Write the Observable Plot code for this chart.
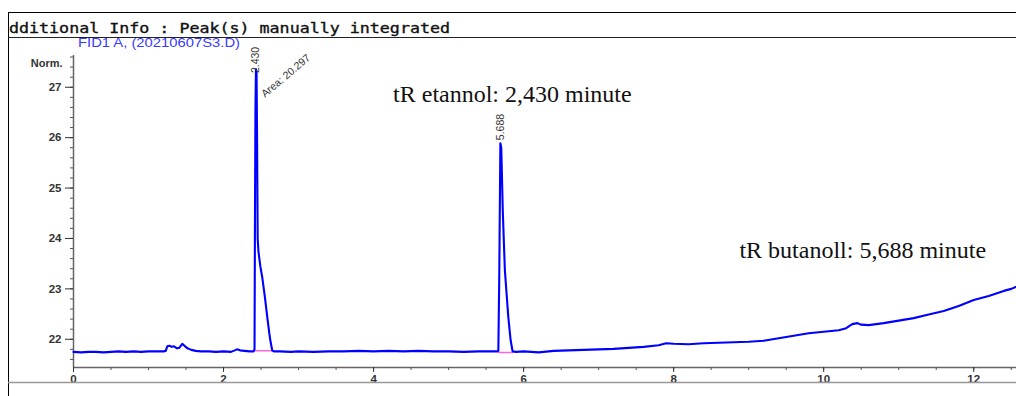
<!DOCTYPE html>
<html>
<head>
<meta charset="utf-8">
<script src="https://cdn.jsdelivr.net/npm/d3@7"></script>
<script src="https://cdn.jsdelivr.net/npm/@observablehq/plot@0.6"></script>
<style>
  html, body { margin: 0; padding: 0; background: #fff; }
  #chart { position: relative; width: 1016px; height: 396px; overflow: hidden; }
</style>
</head>
<body>
<div id="chart"></div>
<script>
// ---- data ----
const headerText = "dditional Info : Peak(s) manually integrated";
const signalName = "FID1 A, (20210607S3.D)";
const yUnit = "Norm.";

const times = [
  0, 0.1, 0.2, 0.3, 0.4, 0.5, 0.6, 0.7, 0.8, 0.9, 1.0, 1.1, 1.2, 1.23, 1.25, 1.28, 1.31, 1.34, 1.38, 1.41,
  1.45, 1.48, 1.52, 1.57, 1.63, 1.7, 1.8, 1.9, 2.0, 2.1, 2.15, 2.18, 2.22, 2.28, 2.35, 2.40,
  2.413, 2.418, 2.425, 2.432, 2.440, 2.447, 2.455, 2.465, 2.49, 2.516, 2.55, 2.583, 2.61, 2.627, 2.649, 2.67,
  2.75, 2.9, 3.0, 3.2, 3.4, 3.6, 3.8, 4.0, 4.2, 4.4, 4.6, 4.8, 5.0, 5.2, 5.4, 5.6, 5.65,
  5.663, 5.675, 5.69, 5.702, 5.722, 5.75, 5.796, 5.827, 5.853,
  5.9, 6.0, 6.2, 6.4, 6.6, 6.8, 7.0, 7.2, 7.4, 7.6, 7.8, 7.9, 8.0, 8.2, 8.4, 8.6, 8.8, 9.0, 9.2, 9.4,
  9.6, 9.8, 10.0, 10.2, 10.3, 10.38, 10.45, 10.5, 10.6, 10.8, 11.0, 11.2, 11.4, 11.6, 11.8, 12.0, 12.2, 12.4, 12.5, 12.6
];
const values = [
  21.75, 21.74, 21.75, 21.75, 21.74, 21.75, 21.76, 21.75, 21.76, 21.75, 21.76, 21.76, 21.76, 21.77, 21.86, 21.87, 21.85, 21.86, 21.82, 21.83,
  21.91, 21.87, 21.82, 21.79, 21.77, 21.76, 21.76, 21.75, 21.76, 21.75, 21.78, 21.80, 21.78, 21.77, 21.76, 21.76,
  21.80, 24.0, 26.5, 27.36, 27.3, 26.0, 24.0, 23.75, 23.45, 23.23, 22.85, 22.44, 22.12, 21.95, 21.78, 21.76,
  21.76, 21.75, 21.76, 21.75, 21.76, 21.76, 21.77, 21.76, 21.77, 21.76, 21.77, 21.76, 21.76, 21.75, 21.76, 21.76, 21.76,
  21.77, 23.2, 25.89, 25.8, 24.56, 23.37, 22.44, 21.98, 21.76,
  21.75, 21.76, 21.74, 21.77, 21.78, 21.79, 21.80, 21.81, 21.83, 21.85, 21.88, 21.92, 21.91, 21.90, 21.92, 21.93, 21.94, 21.95, 21.97, 22.02,
  22.07, 22.12, 22.15, 22.18, 22.22, 22.30, 22.32, 22.29, 22.28, 22.32, 22.37, 22.42, 22.49, 22.56, 22.66, 22.78, 22.86, 22.96, 23.0, 23.06
];

// integration baselines (pink)
const baseStart = [2.413, 5.663];
const baseEnd   = [2.649, 5.853];
const baseStartV = [21.77, 21.74];
const baseEndV   = [21.77, 21.74];

// peak annotations
const peakTimes  = [2.430, 5.688];
const peakHeights = [27.36, 25.89];
const peakLabels = ["2.430", "5.688"];
const areaLabel = "Area: 20.297";

const notes = ["tR etannol: 2,430 minute", "tR butanoll: 5,688 minute"];
const noteX = [5.85, 10.52];
const noteY = [26.86, 23.76];

const xTicks = [0, 2, 4, 6, 8, 10, 12];
const yTicks = [22, 23, 24, 25, 26, 27];
const xDomain = [0, 12.57];
const yDomain = [21.44, 27.63];

// ---- build tables ----
const signal = times.map((t, i) => ({t, v: values[i]}));
const baselines = baseStart.flatMap((s, i) => [
  {t: s, v: baseStartV[i], k: i},
  {t: baseEnd[i], v: baseEndV[i], k: i}
]);
const peaks = peakTimes.map((t, i) => ({t, v: peakHeights[i], label: peakLabels[i]}));
const noteData = notes.map((n, i) => ({x: noteX[i], y: noteY[i], n}));
const xMinor = d3.range(0, 12.6, 0.5);
const yMinor = d3.range(21.6, 27.61, 0.2).map(d => +d.toFixed(1));

const plot = Plot.plot({
  width: 1016,
  height: 396,
  marginLeft: 73,
  marginRight: 0,
  marginTop: 55,
  marginBottom: 29,
  x: {domain: xDomain},
  y: {domain: yDomain},
  style: {fontFamily: "'Liberation Sans', Arial, sans-serif", fontSize: "11px", background: "transparent", overflow: "visible"},
  marks: [
    Plot.ruleX([0], {stroke: "#666", strokeWidth: 1.5}),
    Plot.ruleY([yDomain[0]], {stroke: "#666", strokeWidth: 1.5}),
    Plot.axisY(yMinor, {anchor: "left", tickSize: 3, tickFormat: () => "", color: "#555", label: null}),
    Plot.axisY(yTicks, {anchor: "left", tickSize: 8, tickPadding: 4, tickFormat: d3.format("d"), color: "#333", fontWeight: "bold", fontSize: 11.5, label: null}),
    Plot.axisX(xMinor, {anchor: "bottom", tickSize: 3, tickFormat: () => "", color: "#555", label: null}),
    Plot.axisX(xTicks, {anchor: "bottom", tickSize: 5, tickPadding: 2, tickFormat: d3.format("d"), color: "#333", fontWeight: "bold", fontSize: 11.5, label: null}),
    Plot.text([yUnit], {frameAnchor: "top-left", dx: -11, dy: 4, textAnchor: "end", fontSize: 11, fontWeight: "bold", fill: "#333"}),
    Plot.line(baselines, {x: "t", y: "v", z: "k", stroke: "#ff66dd", strokeWidth: 1.5}),
    Plot.line(signal, {x: "t", y: "v", stroke: "#0000ff", strokeWidth: 2.1}),
    Plot.text(peaks.slice(0, 1), {x: "t", y: "v", text: "label", rotate: -90, textAnchor: "start", dy: 4, fontSize: 10.5, fill: "#333"}),
    Plot.text(peaks.slice(1), {x: "t", y: "v", text: "label", rotate: -90, textAnchor: "start", dy: -3, fontSize: 10.5, fill: "#333"}),
    Plot.text([areaLabel], {x: peakTimes[0], y: peakHeights[0], dx: 7, dy: 26, rotate: -40, textAnchor: "start", fontSize: 10.5, fill: "#333"}),
    Plot.text(noteData, {x: "x", y: "y", text: "n", fontFamily: "'Liberation Serif', 'Times New Roman', serif", fontSize: 24, fill: "#111"})
  ]
});

document.getElementById("chart").appendChild(plot);

// report frame chrome
const svg = d3.select(plot);
const g = svg.append("g").attr("text-anchor", "start");
g.append("line").attr("x1", 8).attr("x2", 1016).attr("y1", 12.5).attr("y2", 12.5).attr("stroke", "#000");
g.append("line").attr("x1", 8.5).attr("x2", 8.5).attr("y1", 12).attr("y2", 396).attr("stroke", "#000");
g.append("line").attr("x1", 8).attr("x2", 1016).attr("y1", 37.5).attr("y2", 37.5).attr("stroke", "#222");
g.append("line").attr("x1", 8).attr("x2", 1016).attr("y1", 382.5).attr("y2", 382.5).attr("stroke", "#999").attr("stroke-width", 1.5);
g.append("text").text(headerText)
  .attr("x", 9).attr("y", 33)
  .attr("text-anchor", "start")
  .attr("textLength", 441).attr("lengthAdjust", "spacingAndGlyphs")
  .attr("font-family", "'DejaVu Sans Mono', monospace")
  .attr("font-size", 14.5).attr("fill", "#111")
  .attr("stroke", "#111").attr("stroke-width", 0.35);
g.append("text").text(signalName)
  .attr("x", 78).attr("y", 47)
  .attr("text-anchor", "start")
  .attr("textLength", 162).attr("lengthAdjust", "spacingAndGlyphs")
  .attr("font-family", "'Liberation Sans', Arial, sans-serif")
  .attr("font-size", 13).attr("fill", "#3a3aff");
</script>
</body>
</html>
